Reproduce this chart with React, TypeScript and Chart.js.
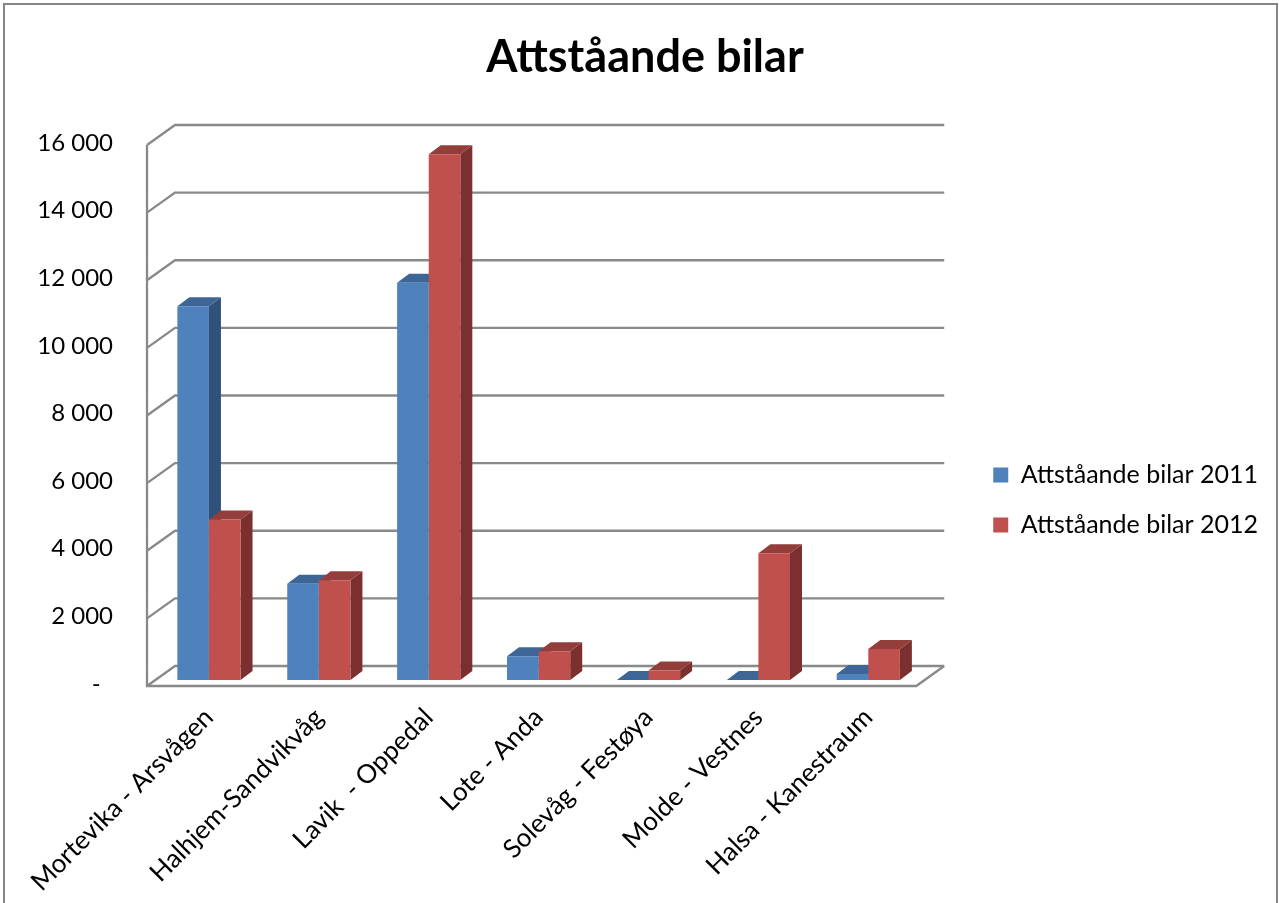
import React, { useEffect, useRef } from 'react';
import { Chart, registerables } from 'chart.js';

Chart.register(...registerables);

const categories = [
  'Mortevika - Arsvågen',
  'Halhjem-Sandvikvåg',
  'Lavik  - Oppedal',
  'Lote - Anda',
  'Solevåg - Festøya',
  'Molde - Vestnes',
  'Halsa - Kanestraum',
];
const values2011 = [11050, 2850, 11750, 700, 0, 0, 180];
const values2012 = [4750, 2950, 15550, 850, 280, 3750, 920];
const seriesNames = ['Attståande bilar 2011', 'Attståande bilar 2012'];
const chartTitle = 'Attståande bilar';
const yMax = 16000;
const yStep = 2000;

const FONT = 'Lato, "Noto Sans", sans-serif';
const frontColors = ['#4F81BD', '#C0504D'];
const topColors = ['#3D6696', '#943E3B'];
const sideColors = ['#30527A', '#7B2F2E'];

// oblique offsets (bar plane -> front plane / back wall) and bar depth
const FX = -7, FY = 6, BX = 21, BY = -14, DX = 12, DY = -9;

const fmt = (v: number) =>
  v === 0 ? '-  ' : String(v).replace(/\B(?=(\d{3})+(?!\d))/g, ' ');

const excel3d = {
  id: 'excel3d',
  beforeDraw(chart: any) {
    const { ctx, width, height } = chart;
    ctx.save();
    ctx.fillStyle = '#ffffff';
    ctx.fillRect(0, 0, width, height);
    ctx.strokeStyle = '#868686';
    ctx.lineWidth = 2;
    ctx.strokeRect(4, 4, 1273, height + 40);
    ctx.restore();
  },
  beforeDatasetsDraw(chart: any) {
    const { ctx, chartArea: a } = chart;
    const y = chart.scales.y;
    const ticks = y.ticks.map((t: any) => t.value);
    const zero = y.getPixelForValue(0);
    const top = y.getPixelForValue(yMax);
    ctx.save();
    ctx.strokeStyle = '#898989';
    ctx.lineWidth = 2.3;
    ctx.beginPath();
    for (const v of ticks) {
      const py = y.getPixelForValue(v);
      ctx.moveTo(a.left + FX, py + FY);
      ctx.lineTo(a.left + BX, py + BY);
      ctx.lineTo(a.right + BX, py + BY);
    }
    ctx.moveTo(a.left + FX, top + FY);
    ctx.lineTo(a.left + FX, zero + FY);
    ctx.lineTo(a.right + FX, zero + FY);
    ctx.lineTo(a.right + BX, zero + BY);
    ctx.stroke();

    chart.data.datasets.forEach((ds: any, di: number) => {
      const meta = chart.getDatasetMeta(di);
      meta.data.forEach((bar: any) => {
        const { x, y: by, base, width } = bar.getProps(['x', 'y', 'base', 'width'], true);
        const l = x - width / 2;
        const r = x + width / 2;
        const t = Math.min(by, base);
        ctx.fillStyle = sideColors[di];
        ctx.beginPath();
        ctx.moveTo(r, t);
        ctx.lineTo(r + DX, t + DY);
        ctx.lineTo(r + DX, base + DY);
        ctx.lineTo(r, base);
        ctx.closePath();
        ctx.fill();
        ctx.fillStyle = topColors[di];
        ctx.beginPath();
        ctx.moveTo(l, t);
        ctx.lineTo(r, t);
        ctx.lineTo(r + DX, t + DY);
        ctx.lineTo(l + DX, t + DY);
        ctx.closePath();
        ctx.fill();
      });
    });
    ctx.restore();
  },
};

export default function App() {
  const ref = useRef<HTMLCanvasElement | null>(null);
  useEffect(() => {
    if (!ref.current) return;
    const chart = new Chart(ref.current, {
      type: 'bar',
      data: {
        labels: categories,
        datasets: [
          { label: seriesNames[0], data: values2011, backgroundColor: frontColors[0], borderWidth: 0 },
          { label: seriesNames[1], data: values2012, backgroundColor: frontColors[1], borderWidth: 0 },
        ],
      },
      options: {
        responsive: false,
        animation: false,
        devicePixelRatio: 1,
        layout: { padding: { left: 22, right: 11 } },
        datasets: { bar: { categoryPercentage: 0.575, barPercentage: 1 } },
        plugins: {
          title: {
            display: true,
            text: chartTitle,
            color: '#000',
            font: { family: FONT, size: 45, weight: 'bold' },
            padding: { top: 30.5, bottom: 139 - 30.5 - 45 * 1.2 },
          },
          legend: {
            position: 'right',
            labels: {
              color: '#000',
              font: { family: FONT, size: 25 },
              boxWidth: 15,
              boxHeight: 15,
              padding: 25,
            },
          },
          tooltip: { enabled: false },
        },
        scales: {
          x: {
            grid: { display: false, drawTicks: false },
            border: { display: false },
            ticks: {
              autoSkip: false,
              minRotation: 45,
              maxRotation: 45,
              padding: 22,
              color: '#000',
              font: { family: FONT, size: 26 },
            },
            afterFit: (s: any) => { s.height = 320; },
          },
          y: {
            min: 0,
            max: yMax,
            grid: { display: false, drawTicks: false },
            border: { display: false },
            ticks: {
              stepSize: yStep,
              padding: 41,
              labelOffset: 4,
              color: '#000',
              font: { family: FONT, size: 24 },
              callback: (v: any) => fmt(Number(v)),
            },
            afterFit: (s: any) => { s.width = 132; },
          },
          y2: {
            position: 'right',
            display: false,
            afterFit: (s: any) => { s.width = 45; },
          },
        },
      } as any,
      plugins: [excel3d as any],
    });
    return () => chart.destroy();
  }, []);
  return (
    <div style={{ position: 'fixed', left: 0, top: 0, width: 1279, height: 903, overflow: 'hidden', background: '#fff' }}>
      <canvas ref={ref} width={1279} height={1000} style={{ display: 'block', width: 1279, height: 1000 }} />
    </div>
  );
}
